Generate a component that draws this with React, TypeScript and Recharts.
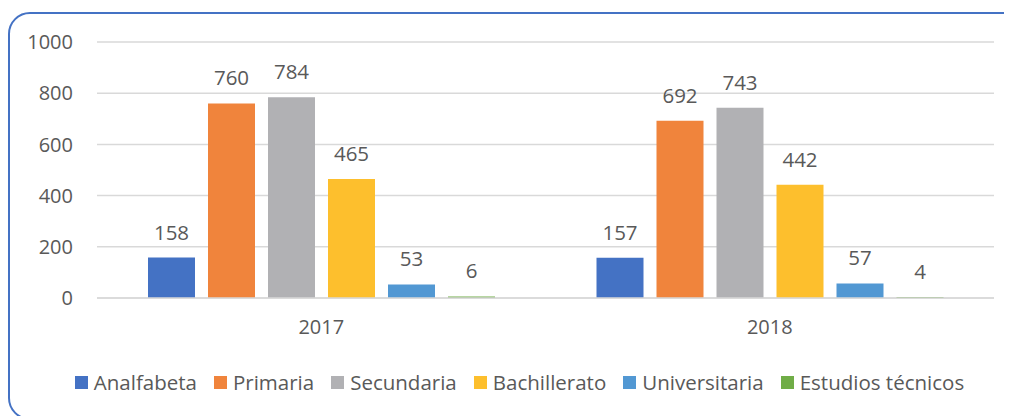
import { BarChart, Bar, XAxis, YAxis, CartesianGrid, Legend, LabelList } from 'recharts';

const years = ['2017', '2018'];
const analfabeta = [158, 157];
const primaria = [760, 692];
const secundaria = [784, 743];
const bachillerato = [465, 442];
const universitaria = [53, 57];
const tecnicos = [6, 4];
const yTicks = [0, 200, 400, 600, 800, 1000];

const series = [
  { key: 'analfabeta', name: 'Analfabeta', color: '#4472C4' },
  { key: 'primaria', name: 'Primaria', color: '#F0843C' },
  { key: 'secundaria', name: 'Secundaria', color: '#B1B1B4' },
  { key: 'bachillerato', name: 'Bachillerato', color: '#FDBF2D' },
  { key: 'universitaria', name: 'Universitaria', color: '#5298D3' },
  { key: 'tecnicos', name: 'Estudios técnicos', color: '#70AD47' },
];

const data = years.map((year, i) => ({
  year,
  analfabeta: analfabeta[i],
  primaria: primaria[i],
  secundaria: secundaria[i],
  bachillerato: bachillerato[i],
  universitaria: universitaria[i],
  tecnicos: tecnicos[i],
}));

const font = '"Open Sans", sans-serif';
const textColor = '#595959';

const LegendContent = () => (
  <div style={{ display: 'flex', justifyContent: 'center', fontFamily: font, fontSize: 20.5, color: textColor, paddingLeft: 54 }}>
    {series.map((s) => (
      <div key={s.key} style={{ display: 'flex', alignItems: 'center', marginRight: 17 }}>
        <span style={{ display: 'inline-block', width: 13, height: 13, background: s.color, marginRight: 6 }} />
        <span>{s.name}</span>
      </div>
    ))}
  </div>
);

export default function App() {
  return (
    <div style={{ position: 'relative', width: 1004, height: 408, overflow: 'hidden', fontFamily: font }}>
      <div
        style={{
          position: 'absolute',
          left: 0,
          top: 4,
          width: 1020,
          height: 408,
          boxSizing: 'border-box',
          border: '2.5px solid #4472C4',
          borderRadius: 22,
        }}
      />
      <BarChart
        width={1004}
        height={408}
        data={data}
        margin={{ top: 34, right: 18, left: 0, bottom: 20 }}
        barSize={47}
        barGap={13}
        style={{ position: 'absolute', left: 0, top: 0 }}
      >
        <CartesianGrid vertical={false} stroke="#D9D9D9" strokeWidth={1.5} />
        <XAxis
          dataKey="year"
          axisLine={{ stroke: '#D9D9D9', strokeWidth: 1.5 }}
          tickLine={false}
          tickSize={0}
          tickMargin={22}
          height={70}
          tick={{ fill: textColor, fontSize: 20, fontFamily: font }}
        />
        <YAxis
          domain={[0, 1000]}
          ticks={yTicks}
          axisLine={false}
          tickLine={false}
          tickSize={0}
          tickMargin={24}
          width={89}
          tick={{ fill: textColor, fontSize: 20, fontFamily: font }}
        />
        <Legend verticalAlign="bottom" content={<LegendContent />} />
        {series.map((s) => (
          <Bar key={s.key} dataKey={s.key} name={s.name} fill={s.color} isAnimationActive={false}>
            <LabelList dataKey={s.key} position="top" offset={18} fill={textColor} fontSize={20.5} fontFamily={font} />
          </Bar>
        ))}
      </BarChart>
    </div>
  );
}
